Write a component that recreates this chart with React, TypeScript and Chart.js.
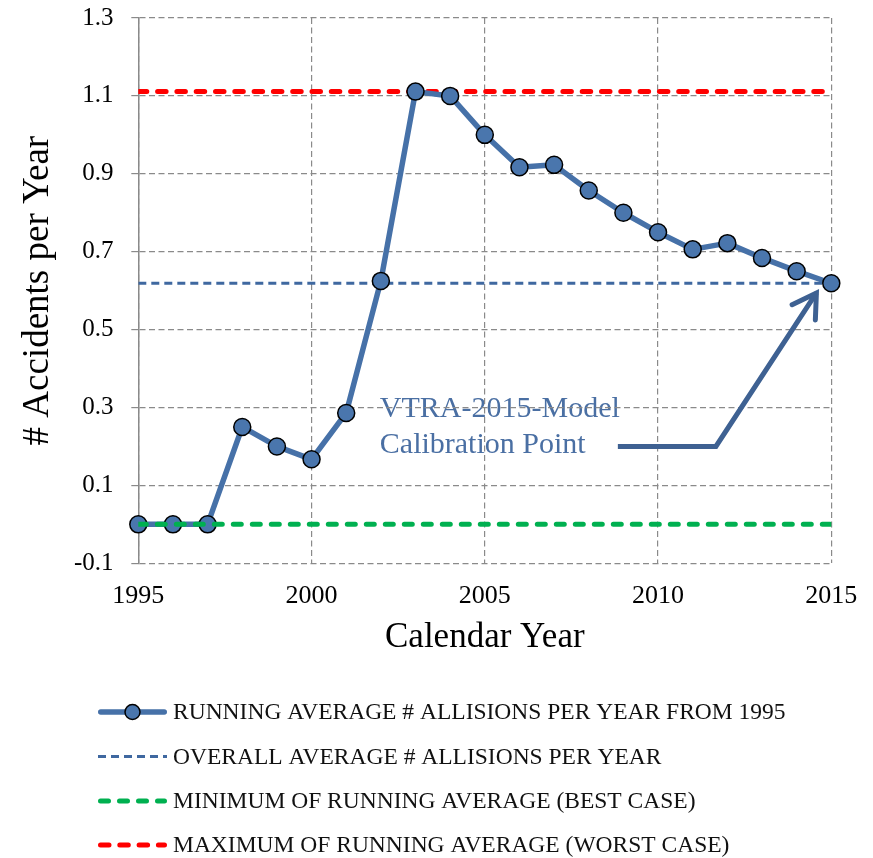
import React, { useEffect, useRef } from "react";
import { Chart, registerables } from "chart.js";

Chart.register(...registerables);

// ---------- data ----------
const years = [
  1995, 1996, 1997, 1998, 1999, 2000, 2001, 2002, 2003, 2004, 2005,
  2006, 2007, 2008, 2009, 2010, 2011, 2012, 2013, 2014, 2015,
];
const runningAverage = [
  0, 0, 0, 0.25, 0.2, 0.167, 0.286, 0.625, 1.111, 1.1, 1.0,
  0.917, 0.923, 0.857, 0.8, 0.75, 0.706, 0.722, 0.684, 0.65, 0.619,
];
const overallAverage = 0.619;
const minimumRunningAverage = 0;
const maximumRunningAverage = 1.111;

const xTicks = [1995, 2000, 2005, 2010, 2015];
const yTicks = [-0.1, 0.1, 0.3, 0.5, 0.7, 0.9, 1.1, 1.3];

const seriesLabels = [
  "RUNNING AVERAGE # ALLISIONS PER YEAR FROM 1995",
  "OVERALL AVERAGE # ALLISIONS PER YEAR",
  "MINIMUM OF RUNNING AVERAGE (BEST CASE)",
  "MAXIMUM OF RUNNING AVERAGE (WORST CASE)",
];
const xTitle = "Calendar Year";
const yTitle = "# Accidents per Year";
const calloutLines = ["VTRA-2015-Model", "Calibration Point"];
// callout placement in data units (year, value)
const calloutTextAt = { x: 2001.97, y: [0.276, 0.184] };
const calloutArrow = [
  { x: 2008.84, y: 0.2 },
  { x: 2011.67, y: 0.2 },
  { x: 2014.57, y: 0.594 },
];

// ---------- styles ----------
const SERIF = "'Liberation Serif', 'Times New Roman', serif";
const BLUE = "#4671A8";
const GRID = "#8a8a8a";

const flat = (v: number) => [
  { x: years[0], y: v },
  { x: years[years.length - 1], y: v },
];

const calloutPlugin = {
  id: "callout",
  beforeDraw(chart: any) {
    const { ctx, scales } = chart;
    const xs = scales.x, ys = scales.y;
    ctx.save();
    ctx.fillStyle = "#4A6FA3";
    ctx.font = `30px ${SERIF}`;
    ctx.textAlign = "left";
    ctx.textBaseline = "alphabetic";
    calloutLines.forEach((t, i) => {
      ctx.fillText(t, xs.getPixelForValue(calloutTextAt.x), ys.getPixelForValue(calloutTextAt.y[i]));
    });
    ctx.restore();
  },
  afterDraw(chart: any) {
    const { ctx, scales } = chart;
    const xs = scales.x, ys = scales.y;
    const pts = calloutArrow.map((p) => ({ x: xs.getPixelForValue(p.x), y: ys.getPixelForValue(p.y) }));
    ctx.save();
    ctx.strokeStyle = "#3E6192";
    ctx.lineWidth = 5;
    ctx.lineJoin = "miter";
    ctx.lineCap = "butt";
    ctx.beginPath();
    ctx.moveTo(pts[0].x, pts[0].y);
    for (let i = 1; i < pts.length; i++) ctx.lineTo(pts[i].x, pts[i].y);
    ctx.stroke();
    // open arrow head
    const a = pts[pts.length - 1], b = pts[pts.length - 2];
    const ang = Math.atan2(b.y - a.y, b.x - a.x);
    const len = 27, spread = (31 * Math.PI) / 180;
    ctx.lineCap = "round";
    ctx.beginPath();
    ctx.moveTo(a.x + len * Math.cos(ang + spread), a.y + len * Math.sin(ang + spread));
    ctx.lineTo(a.x, a.y);
    ctx.lineTo(a.x + len * Math.cos(ang - spread), a.y + len * Math.sin(ang - spread));
    ctx.stroke();
    ctx.restore();
  },
};

const legendPlugin = {
  id: "customLegend",
  afterDraw(chart: any) {
    const { ctx } = chart;
    const rows = [704, 748.5, 793, 837];
    const x0 = 90, x1 = 159, tx = 165;
    chart.data.datasets.forEach((ds: any, i: number) => {
      const y = rows[i];
      ctx.save();
      ctx.strokeStyle = ds.borderColor;
      ctx.lineWidth = ds.borderWidth;
      ctx.lineCap = ds.borderCapStyle || "butt";
      ctx.setLineDash(ds.borderDash || []);
      const inset = ds.borderCapStyle === "round" ? ds.borderWidth / 2 : 0;
      ctx.beginPath();
      ctx.moveTo(x0 + inset, y);
      ctx.lineTo(x1 - inset, y);
      ctx.stroke();
      ctx.setLineDash([]);
      if (ds.pointRadius > 0) {
        ctx.beginPath();
        ctx.arc((x0 + x1) / 2, y, 7.5, 0, Math.PI * 2);
        ctx.fillStyle = ds.pointBackgroundColor;
        ctx.fill();
        ctx.lineWidth = 1.5;
        ctx.strokeStyle = ds.pointBorderColor;
        ctx.stroke();
      }
      ctx.fillStyle = "#111";
      ctx.font = `23.5px ${SERIF}`;
      ctx.textAlign = "left";
      ctx.textBaseline = "middle";
      ctx.fillText(ds.label, tx, y + 1);
      ctx.restore();
    });
  },
};

export default function App() {
  const canvasRef = useRef<HTMLCanvasElement | null>(null);

  useEffect(() => {
    document.documentElement.style.overflow = "hidden";
    const canvas = canvasRef.current;
    if (!canvas) return;
    const chart = new Chart(canvas, {
      type: "line",
      data: {
        datasets: [
          {
            label: seriesLabels[0],
            data: years.map((y, i) => ({ x: y, y: runningAverage[i] })),
            borderColor: BLUE,
            borderWidth: 5.5,
            borderCapStyle: "round",
            borderJoinStyle: "round",
            pointRadius: 8.5,
            pointBackgroundColor: "#4A76AD",
            pointBorderColor: "#000000",
            pointBorderWidth: 1.5,
            clip: false,
            order: 2,
          },
          {
            label: seriesLabels[1],
            data: flat(overallAverage),
            borderColor: "#3F68A0",
            borderWidth: 3.2,
            borderDash: [8, 5],
            pointRadius: 0,
            order: 3,
          },
          {
            label: seriesLabels[2],
            data: flat(minimumRunningAverage),
            borderColor: "#00B050",
            borderWidth: 5,
            borderDash: [8, 11],
            borderCapStyle: "round",
            pointRadius: 0,
            order: 1,
          },
          {
            label: seriesLabels[3],
            data: flat(maximumRunningAverage),
            borderColor: "#FF0000",
            borderWidth: 5,
            borderDash: [8.5, 10.8],
            borderCapStyle: "round",
            pointRadius: 0,
            order: 3,
          },
        ],
      },
      options: {
        animation: false,
        responsive: true,
        maintainAspectRatio: false,
        layout: { padding: { top: 7, right: 33.7, bottom: 198.8, left: 0 } },
        plugins: {
          legend: { display: false },
          tooltip: { enabled: false },
        },
        scales: {
          x: {
            type: "linear",
            min: xTicks[0],
            max: xTicks[xTicks.length - 1],
            afterBuildTicks: (axis: any) => {
              axis.ticks = xTicks.map((v) => ({ value: v }));
            },
            afterFit: (axis: any) => {
              axis.height = 95.9;
              axis.paddingLeft = 0;
              axis.paddingRight = 0;
            },
            grid: { color: GRID, lineWidth: 1.2, drawTicks: false },
            border: { display: false, dash: [6, 3.5] },
            ticks: {
              autoSkip: false,
              maxRotation: 0,
              padding: 17,
              color: "#000",
              font: { family: SERIF, size: 26 },
              callback: (v: any) => String(v),
            },
            title: {
              display: true,
              text: xTitle,
              color: "#000",
              font: { family: SERIF, size: 35 },
              padding: { top: 0, bottom: 0 },
            },
          },
          y: {
            type: "linear",
            min: yTicks[0],
            max: yTicks[yTicks.length - 1],
            afterBuildTicks: (axis: any) => {
              axis.ticks = yTicks.map((v) => ({ value: v }));
            },
            afterFit: (axis: any) => {
              axis.width = 130.3;
              axis.paddingTop = 0;
              axis.paddingBottom = 0;
            },
            grid: { color: GRID, lineWidth: 1.2, drawTicks: true, tickLength: 7 },
            border: { display: true, color: "#8a8a8a", width: 1.5, dash: [6, 3.5] },
            ticks: {
              autoSkip: false,
              padding: 17.8,
              color: "#000",
              font: { family: SERIF, size: 25 },
              callback: (v: any) => Number(v).toFixed(1),
            },
            title: {
              display: true,
              text: yTitle,
              color: "#000",
              font: { family: SERIF, size: 37 },
              padding: { top: 8.5, bottom: 0 },
            },
          },
        },
      },
      plugins: [calloutPlugin, legendPlugin],
    });
    return () => chart.destroy();
  }, []);

  return (
    <div style={{ width: 857, height: 850, position: "relative" }}>
      <canvas ref={canvasRef} />
    </div>
  );
}
